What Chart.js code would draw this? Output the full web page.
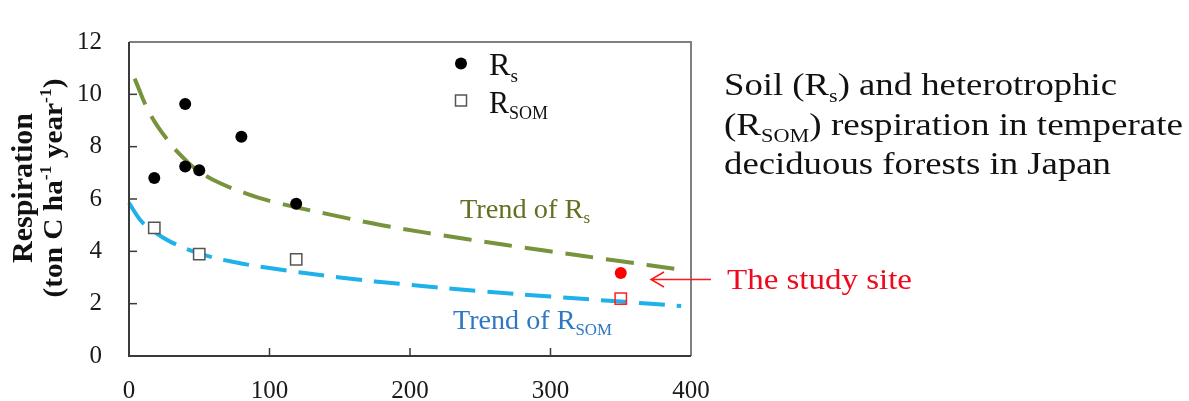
<!DOCTYPE html>
<html>
<head>
<meta charset="utf-8">
<script src="https://cdn.jsdelivr.net/npm/chart.js@4.4.1/dist/chart.umd.min.js"></script>
<style>
  body { margin: 0; background: #fff; }
  canvas { display: block; }
</style>
</head>
<body>
<canvas id="chart" width="1189" height="401"></canvas>
<script>
// measured points (stand age vs respiration)
const rsX = [18, 40, 40, 50, 80, 119];
const rsY = [6.8, 9.63, 7.24, 7.1, 8.38, 5.82];
const somX = [18, 50, 119];
const somY = [4.9, 3.89, 3.69];
const siteX = [350];
const siteRs = [3.17];
const siteSom = [2.19];

// trend curves
const rsTrendX = [4, 15, 29, 41, 50, 65, 84, 100, 120, 140, 180, 240, 297, 345, 393];
const rsTrendY = [10.6, 9.25, 8.15, 7.45, 7.05, 6.6, 6.2, 5.93, 5.67, 5.44, 5.0, 4.47, 4.02, 3.66, 3.3];
const somTrendX = [0, 8, 17, 29, 50, 72, 100, 150, 200, 250, 300, 350, 393];
const somTrendY = [5.85, 5.2, 4.78, 4.38, 3.92, 3.62, 3.36, 3.0, 2.72, 2.48, 2.27, 2.08, 1.91];

const xTicks = [0, 100, 200, 300, 400];
const yTicks = [0, 2, 4, 6, 8, 10, 12];

const serif = '"Liberation Serif", "DejaVu Serif", serif';

function pts(xs, ys) {
    return xs.map((x, i) => ({ x: x, y: ys[i] }));
}

// draw text made of normal / sub / sup parts, optionally squeezed to a width
function drawRich(ctx, parts, x, y, opt) {
    const size = opt.size;
    const weight = opt.bold ? 'bold ' : '';
    let total = 0;
    const widths = parts.map(p => {
        const s = (p.sub || p.sup) ? size * 0.6 : size;
        ctx.font = weight + s + 'px ' + serif;
        const w = ctx.measureText(p.t).width;
        total += w;
        return w;
    });
    const k = opt.width ? opt.width / total : 1;
    ctx.save();
    ctx.translate(x, y);
    ctx.scale(k, 1);
    ctx.fillStyle = opt.color || '#111';
    ctx.textBaseline = 'alphabetic';
    ctx.textAlign = 'left';
    let cx = opt.align === 'center' ? -total / 2 : 0;
    parts.forEach((p, i) => {
        const s = (p.sub || p.sup) ? size * 0.6 : size;
        ctx.font = weight + s + 'px ' + serif;
        let dy = 0;
        if (p.sub) dy = size * 0.22;
        if (p.sup) dy = -size * 0.38;
        ctx.fillText(p.t, cx, dy);
        cx += widths[i];
    });
    ctx.restore();
}

const decorations = {
    id: 'decorations',
    afterDraw(chart) {
        const ctx = chart.ctx;
        const a = chart.chartArea;
        const xs = chart.scales.x;
        const ys = chart.scales.y;

        ctx.save();
        // frame
        ctx.lineWidth = 2;
        ctx.strokeStyle = '#808080';
        ctx.beginPath();
        ctx.moveTo(a.left, a.top);
        ctx.lineTo(a.right, a.top);
        ctx.lineTo(a.right, a.bottom);
        ctx.stroke();
        ctx.strokeStyle = '#3a3a3a';
        ctx.beginPath();
        ctx.moveTo(a.left, a.top);
        ctx.lineTo(a.left, a.bottom);
        ctx.lineTo(a.right, a.bottom);
        ctx.stroke();

        // inner tick marks
        ctx.lineWidth = 1.5;
        yTicks.slice(1, -1).forEach(v => {
            const py = ys.getPixelForValue(v);
            ctx.beginPath();
            ctx.moveTo(a.left, py);
            ctx.lineTo(a.left + 8, py);
            ctx.stroke();
        });
        xTicks.slice(1, -1).forEach(v => {
            const px = xs.getPixelForValue(v);
            ctx.beginPath();
            ctx.moveTo(px, a.bottom);
            ctx.lineTo(px, a.bottom - 8);
            ctx.stroke();
        });

        // legend
        ctx.fillStyle = '#000';
        ctx.beginPath();
        ctx.arc(461, 63.5, 6, 0, Math.PI * 2);
        ctx.fill();
        ctx.fillStyle = '#fff';
        ctx.strokeStyle = '#555';
        ctx.lineWidth = 1.5;
        ctx.fillRect(455.5, 95, 11, 11);
        ctx.strokeRect(455.5, 95, 11, 11);
        drawRich(ctx, [{ t: 'R' }, { t: 's', sub: true }], 489, 75, { size: 31, width: 29 });
        drawRich(ctx, [{ t: 'R' }, { t: 'SOM', sub: true }], 489, 112.5, { size: 31, width: 59 });

        // trend labels
        drawRich(ctx, [{ t: 'Trend of R' }, { t: 's', sub: true }], 460, 217.5,
            { size: 27, width: 130, color: '#62711f' });
        drawRich(ctx, [{ t: 'Trend of R' }, { t: 'SOM', sub: true }], 453, 329,
            { size: 27, width: 159, color: '#2f77c2' });

        // study site arrow + label
        ctx.strokeStyle = '#ff1a1a';
        ctx.lineWidth = 1.5;
        ctx.beginPath();
        ctx.moveTo(711, 279.5);
        ctx.lineTo(651, 279.5);
        ctx.moveTo(664, 272);
        ctx.lineTo(651, 279.5);
        ctx.lineTo(664, 287);
        ctx.stroke();
        drawRich(ctx, [{ t: 'The study site' }], 727, 289, { size: 30, width: 185, color: '#ee0a1e' });

        // description
        drawRich(ctx, [{ t: 'Soil (R' }, { t: 's', sub: true }, { t: ') and heterotrophic' }], 724, 95,
            { size: 32, width: 393 });
        drawRich(ctx, [{ t: '(R' }, { t: 'SOM', sub: true }, { t: ') respiration in temperate' }], 724, 135,
            { size: 32, width: 459 });
        drawRich(ctx, [{ t: 'deciduous forests in Japan' }], 724, 174,
            { size: 32, width: 387 });

        // y axis title
        ctx.save();
        ctx.translate(32, 188);
        ctx.rotate(-Math.PI / 2);
        drawRich(ctx, [{ t: 'Respiration' }], 0, 0, { size: 30, bold: true, width: 150, align: 'center' });
        ctx.restore();
        ctx.save();
        ctx.translate(62, 188);
        ctx.rotate(-Math.PI / 2);
        drawRich(ctx, [{ t: '(ton C ha' }, { t: '-1', sup: true }, { t: ' year' }, { t: '-1', sup: true }, { t: ')' }],
            0, 0, { size: 28, bold: true, width: 219, align: 'center' });
        ctx.restore();

        ctx.restore();
    }
};

new Chart(document.getElementById('chart'), {
    type: 'scatter',
    data: {
        datasets: [
            {
                label: 'Rs (study site)',
                data: pts(siteX, siteRs),
                pointStyle: 'circle',
                pointRadius: 6,
                backgroundColor: '#ff0000',
                borderWidth: 0
            },
            {
                label: 'RSOM (study site)',
                data: pts(siteX, siteSom),
                pointStyle: 'rect',
                pointRadius: 8,
                backgroundColor: 'rgba(255,255,255,0)',
                borderColor: '#ff2020',
                borderWidth: 1.5
            },
            {
                label: 'Rs',
                data: pts(rsX, rsY),
                pointStyle: 'circle',
                pointRadius: 6,
                backgroundColor: '#000',
                borderWidth: 0
            },
            {
                label: 'RSOM',
                data: pts(somX, somY),
                pointStyle: 'rect',
                pointRadius: 8,
                backgroundColor: '#fff',
                borderColor: '#555',
                borderWidth: 1.5
            },
            {
                label: 'Trend of Rs',
                data: pts(rsTrendX, rsTrendY),
                showLine: true,
                pointRadius: 0,
                borderColor: '#77933c',
                borderWidth: 4,
                borderDash: [28, 13],
                tension: 0.4,
                clip: false
            },
            {
                label: 'Trend of RSOM',
                data: pts(somTrendX, somTrendY),
                showLine: true,
                pointRadius: 0,
                borderColor: '#1fb1ea',
                borderWidth: 4,
                borderDash: [26, 12],
                tension: 0.4,
                clip: false
            }
        ]
    },
    options: {
        responsive: false,
        animation: false,
        layout: { padding: { top: 22, right: 498, left: 0, bottom: 0 } },
        plugins: { legend: { display: false }, tooltip: { enabled: false } },
        scales: {
            x: {
                type: 'linear',
                min: 0,
                max: 400,
                afterBuildTicks: s => { s.ticks = xTicks.map(v => ({ value: v })); },
                afterFit: s => { s.height = 45; },
                grid: { display: false, drawTicks: false },
                border: { display: false },
                ticks: { padding: 20, color: '#1a1a1a', font: { family: serif, size: 25 } }
            },
            y: {
                min: 0,
                max: 12,
                afterBuildTicks: s => { s.ticks = yTicks.map(v => ({ value: v })); },
                afterFit: s => { s.width = 129; },
                grid: { display: false, drawTicks: false },
                border: { display: false },
                ticks: { padding: 27, color: '#1a1a1a', font: { family: serif, size: 25 } }
            }
        }
    },
    plugins: [decorations]
});
</script>
</body>
</html>
